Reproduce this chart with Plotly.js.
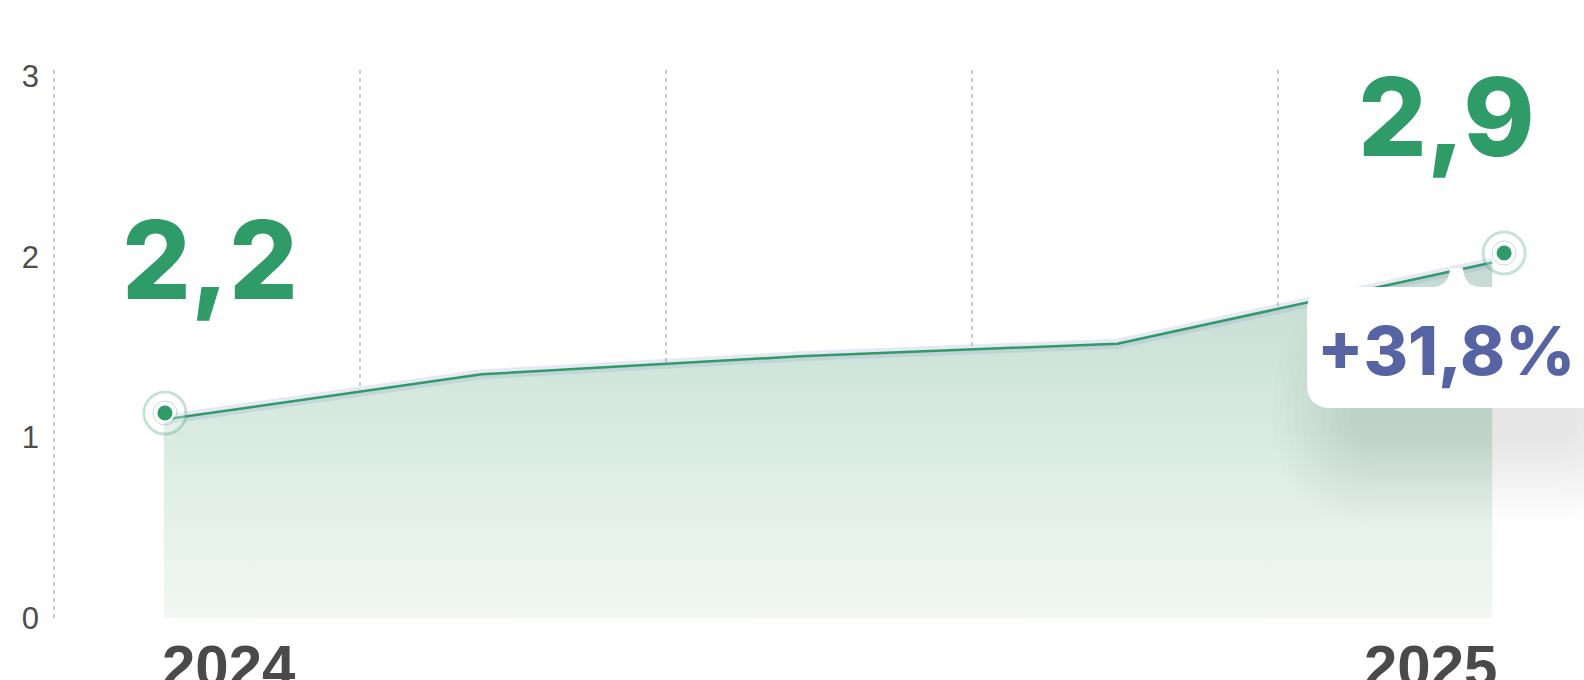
<!DOCTYPE html>
<html>
<head>
<meta charset="utf-8">
<script src="https://cdn.plot.ly/plotly-3.0.1.min.js"></script>
<style>
  html, body { margin: 0; padding: 0; background: #ffffff; }
  #chart { width: 1584px; height: 680px; }
</style>
</head>
<body>
<div id="chart"></div>
<script>
// ---------- data ----------
const xPos        = [0.359, 1.398, 2.436, 3.475, 4.700];   // line vertices (axis units)
const values      = [1.10, 1.35, 1.45, 1.52, 1.97];        // line values
const markerX     = [0.3625, 4.739];                       // highlighted start / end points
const markerY     = [1.136, 2.022];
const valueLabels = ['2,2', '2,9'];
const yearLabels  = ['2024', '2025'];
const changeLabel = '+31,8%';
const yTickVals   = [0, 1, 2, 3];
const yTickText   = ['0', '1', '2', '3'];
const gridVals    = [0, 1, 2, 3, 4];

// ---------- layout constants ----------
const W = 1584, H = 680;
const M = { l: 48, r: 0, t: 70, b: 58 };
const plotW = W - M.l - M.r, plotH = H - M.t - M.b;
const xRange = [-6 / 306, 5.0];
const yRange = [-0.022, 3.036];
const X = px => xRange[0] + (px - M.l) / plotW * (xRange[1] - xRange[0]);
const Y = py => yRange[1] - (py - M.t) / plotH * (yRange[1] - yRange[0]);
const P = (px, py) => X(px) + ',' + Y(py);

const GREEN = '#2e9b68';
const BLUE = '#5664a4';

function rrect(x0, y0, x1, y1, r) {
  return `M ${P(x0 + r, y0)} L ${P(x1 - r, y0)} Q ${P(x1, y0)} ${P(x1, y0 + r)} ` +
         `L ${P(x1, y1 - r)} Q ${P(x1, y1)} ${P(x1 - r, y1)} L ${P(x0 + r, y1)} ` +
         `Q ${P(x0, y1)} ${P(x0, y1 - r)} L ${P(x0, y0 + r)} Q ${P(x0, y0)} ${P(x0 + r, y0)} Z`;
}

// ---------- shapes: shadow + callout box ----------
const shapes = [];
for (let k = 11; k >= 0; k--) {
  const e = k * 7;
  shapes.push({
    type: 'path', xref: 'x', yref: 'y', layer: 'above',
    path: rrect(1350 - e, 375 - e, 1580 + e, 445 + e, 30 + e),
    fillcolor: 'rgba(60,100,80,0.012)', line: { width: 0 }
  });
}
const bx0 = 1307, by0 = 287, bx1 = 1640, by1 = 408, br = 24;
shapes.push({
  type: 'path', xref: 'x', yref: 'y', layer: 'above',
  path: `M ${P(bx0 + br, by0)} L ${P(1433, by0)} Q ${P(1449, by0 - 1)} ${P(1450, 268)} ` +
        `L ${P(1463, 268)} Q ${P(1464, by0 - 1)} ${P(1480, by0)} L ${P(bx1, by0)} ` +
        `L ${P(bx1, by1)} L ${P(bx0 + br, by1)} Q ${P(bx0, by1)} ${P(bx0, by1 - br)} ` +
        `L ${P(bx0, by0 + br)} Q ${P(bx0, by0)} ${P(bx0 + br, by0)} Z`,
  fillcolor: '#ffffff', line: { width: 0 }
});

// ---------- traces ----------
const traces = [
  {
    x: xPos, y: values, type: 'scatter', mode: 'lines',
    line: { width: 0, color: 'rgba(0,0,0,0)' },
    fill: 'tozeroy',
    fillgradient: {
      type: 'vertical',
      colorscale: [[0, '#f2f7f4'], [0.45, '#dcede4'], [0.7, '#d1e6da'], [1, '#c3d9d3']]
    },
    hoverinfo: 'skip', showlegend: false
  },
  {
    x: xPos, y: values, type: 'scatter', mode: 'lines',
    line: { width: 10, color: 'rgba(140,155,205,0.22)' },
    hoverinfo: 'skip', showlegend: false
  },
  {
    x: xPos, y: values, type: 'scatter', mode: 'lines',
    line: { width: 2.5, color: GREEN },
    hoverinfo: 'skip', showlegend: false
  },
  {
    x: markerX, y: markerY, type: 'scatter', mode: 'markers', cliponaxis: false,
    marker: { size: 42, color: 'rgba(255,255,255,0.3)', line: { color: 'rgba(46,155,104,0.28)', width: 3 } },
    hoverinfo: 'skip', showlegend: false
  },
  {
    x: markerX, y: markerY, type: 'scatter', mode: 'markers', cliponaxis: false,
    marker: { size: 24, color: 'rgba(255,255,255,0)', line: { color: 'rgba(46,155,104,0.3)', width: 1 } },
    hoverinfo: 'skip', showlegend: false
  },
  {
    x: markerX, y: markerY, type: 'scatter', mode: 'markers', cliponaxis: false,
    marker: { size: 17, color: GREEN, line: { color: '#ffffff', width: 2 } },
    hoverinfo: 'skip', showlegend: false
  }
];

// ---------- annotations ----------
const bigFont = { family: 'Inter, "Open Sans", sans-serif', size: 108, color: GREEN, weight: 800 };
const annotations = [
  { x: markerX[0], y: markerY[0], xref: 'x', yref: 'y', text: valueLabels[0], showarrow: false,
    xanchor: 'center', yanchor: 'middle', xshift: 45, yshift: 153, font: bigFont },
  { x: markerX[1], y: markerY[1], xref: 'x', yref: 'y', text: valueLabels[1], showarrow: false,
    xanchor: 'center', yanchor: 'middle', xshift: -58, yshift: 137, font: bigFont },
  { x: markerX[1], y: markerY[1], xref: 'x', yref: 'y', text: changeLabel, showarrow: false,
    xanchor: 'center', yanchor: 'middle', xshift: -58, yshift: -97,
    font: { family: 'Inter, "Open Sans", sans-serif', size: 68, color: BLUE, weight: 800 } },
  { x: xPos[0], y: 0, xref: 'x', yref: 'paper', text: yearLabels[0], showarrow: false,
    xanchor: 'left', yanchor: 'middle', xshift: -4, yshift: -44,
    font: { family: '"Liberation Sans", Arial, sans-serif', size: 60, color: '#4a4a4a', weight: 700 } },
  { x: markerX[1], y: 0, xref: 'x', yref: 'paper', text: yearLabels[1], showarrow: false,
    xanchor: 'right', yanchor: 'middle', xshift: -5, yshift: -44,
    font: { family: '"Liberation Sans", Arial, sans-serif', size: 60, color: '#4a4a4a', weight: 700 } }
];

const layout = {
  width: W, height: H,
  margin: M,
  paper_bgcolor: '#ffffff', plot_bgcolor: '#ffffff',
  showlegend: false,
  xaxis: {
    range: xRange, tickvals: gridVals, showticklabels: false, ticks: '',
    showgrid: true, gridcolor: '#cbcbcb', gridwidth: 2, griddash: '4px,4px',
    zeroline: false, showline: false, fixedrange: true
  },
  yaxis: {
    range: yRange, tickvals: yTickVals, ticktext: yTickText,
    showgrid: false, zeroline: false, showline: false, ticks: '',
    ticklabelstandoff: 8,
    tickfont: { family: '"Liberation Sans", Arial, sans-serif', size: 31, color: '#4d4d4d' },
    fixedrange: true
  },
  shapes: shapes,
  annotations: annotations
};

Plotly.newPlot('chart', traces, layout, { displayModeBar: false, staticPlot: true });
</script>
</body>
</html>
